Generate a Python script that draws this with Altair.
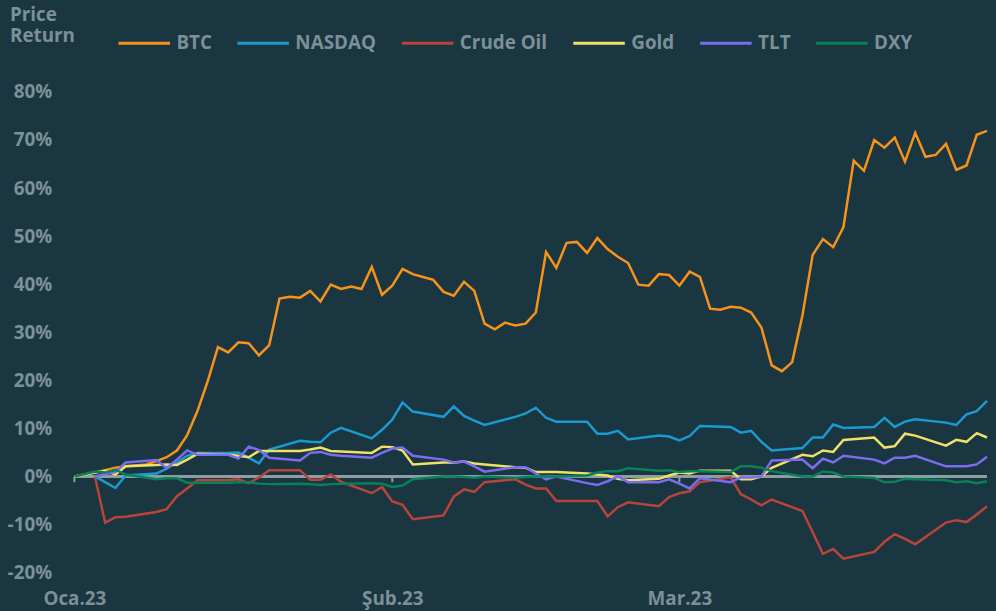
import altair as alt
import pandas as pd
import jinja2

# ---------------- data (percent price return since start of 2023) ----------------
START = "2023-01-01"
N_DAYS = 90  # Jan 1 .. Mar 31

btc = [0, 0.4, 0.8, 1.3, 1.8, 2.1, 2.3, 2.5, 3.2, 4.0,
       5.4, 8.6, 13.6, 19.8, 26.9, 25.8, 27.9, 27.7, 25.2, 27.3,
       37.0, 37.4, 37.2, 38.6, 36.4, 39.9, 39.0, 39.5, 39.0, 43.6,
       37.8, 39.7, 43.2, 42.1, 41.5, 40.9, 38.4, 37.6, 40.5, 38.6,
       31.8, 30.6, 32.0, 31.4, 31.8, 34.1, 46.7, 43.4, 48.6, 48.8,
       46.5, 49.6, 47.3, 45.7, 44.4, 39.9, 39.7, 42.1, 41.9, 39.7,
       42.6, 41.5, 34.9, 34.7, 35.3, 35.1, 34.1, 31.0, 23.1, 21.9,
       23.8, 33.5, 46.1, 49.4, 47.7, 51.9, 65.7, 63.6, 70.0, 68.4,
       70.5, 65.5, 71.5, 66.5, 66.9, 69.2, 63.8, 64.7, 71.1, 71.9]

# day offsets (from Jan 1) of market trading days
trade_days = [2, 3, 4, 5, 8, 9, 10, 11, 12, 15, 16, 17, 18, 19, 22, 23, 24, 25, 26,
              29, 30, 31, 32, 33, 36, 37, 38, 39, 40, 43, 44, 45, 46, 47, 50, 51, 52, 53, 54,
              57, 58, 59, 60, 61, 64, 65, 66, 67, 68, 71, 72, 73, 74, 75, 78, 79, 80, 81, 82,
              85, 86, 87, 88, 89]
fx_days = [0] + trade_days

nasdaq = [0, -1.2, -2.4, 0.2, 0.6, 1.6, 2.9, 4.3, 4.9, 4.9, 5.0, 3.9, 2.7, 5.6,
          7.4, 7.2, 7.1, 9.1, 10.1, 7.9, 9.7, 11.8, 15.4, 13.5, 12.4, 14.6, 12.6, 11.6, 10.7,
          12.4, 13.1, 14.3, 12.2, 11.4, 11.4, 8.9, 8.9, 9.5, 7.7, 8.5, 8.3, 7.5, 8.4, 10.5,
          10.3, 9.1, 9.5, 7.2, 5.4, 5.9, 8.1, 8.1, 10.8, 10.1, 10.3, 12.2, 10.3, 11.4, 11.9,
          11.2, 10.7, 12.9, 13.6, 15.7]

crude = [0, -9.6, -8.5, -8.4, -7.4, -6.8, -4.1, -2.5, -0.8, -0.8, -0.6, -1.4, -0.2, 1.3,
         1.3, -0.7, -0.7, 0.4, -1.1, -3.5, -2.2, -5.2, -5.9, -8.9, -8.1, -4.2, -2.7, -3.2, -1.2,
         -0.6, -1.7, -2.5, -2.5, -5.1, -5.1, -5.1, -8.3, -6.4, -5.4, -6.2, -4.3, -3.5, -3.1, -1.2,
         -0.2, -3.7, -4.8, -6.0, -4.8, -7.2, -11.6, -16.1, -15.1, -17.1, -15.7, -13.6, -12.0, -13.0, -14.1,
         -9.6, -9.1, -9.5, -7.9, -6.2]

tlt = [0, 0.5, 0.9, 2.9, 3.4, 1.7, 3.5, 5.4, 4.5, 4.5, 3.7, 6.2, 5.5, 3.9,
       3.3, 4.9, 5.1, 4.5, 4.3, 3.9, 4.9, 5.8, 6.0, 4.3, 3.5, 2.9, 3.1, 2.1, 1.0,
       1.9, 1.9, 0.6, -0.6, 0.0, -1.4, -1.8, -1.0, 0.0, -1.2, -1.2, -0.6, -1.5, -2.5, -0.4,
       -1.2, -0.2, -0.2, 0.0, 3.3, 3.5, 1.7, 3.7, 2.9, 4.3, 3.5, 2.7, 3.9, 3.9, 4.3,
       2.1, 2.1, 2.1, 2.5, 4.1]

gold = [0, 0.8, 1.2, 0.4, 2.1, 2.4, 2.5, 2.4, 3.5, 4.7, 4.5, 4.3, 4.0, 5.3, 5.3,
        5.3, 5.6, 6.0, 5.3, 5.2, 4.9, 6.2, 6.1, 5.4, 2.5, 2.9, 2.9, 3.1, 2.7, 2.5,
        1.9, 1.8, 0.9, 0.9, 0.9, 0.6, 0.4, 0.2, -0.5, -0.8, -0.5, 0.2, 0.8, 0.6, 1.2,
        1.2, -0.6, -0.6, 0.0, 1.8, 4.5, 4.2, 5.4, 5.1, 7.6, 8.1, 6.0, 6.3, 8.9, 8.5,
        6.4, 7.6, 7.2, 9.0, 8.1]

dxy = [0, 1.0, 0.8, 1.4, 0.4, -0.6, -0.4, -0.4, -1.3, -1.3, -1.3, -1.2, -1.2, -1.5, -1.6,
       -1.5, -1.6, -1.8, -1.6, -1.5, -1.4, -1.5, -2.2, -1.9, -0.6, 0.0, 0.0, -0.1, -0.3, 0.0,
       -0.3, -0.1, 0.0, 0.0, 0.0, 0.2, 0.8, 1.1, 1.1, 1.7, 1.2, 1.3, 0.9, 1.1, 1.1,
       0.9, 2.1, 2.1, 1.8, 1.1, 0.0, 0.0, 1.0, 0.8, 0.0, -0.3, -1.2, -1.1, -0.5, -0.6,
       -0.8, -1.2, -1.0, -1.4, -1.0]

names = ["BTC", "NASDAQ", "Crude Oil", "Gold", "TLT", "DXY"]
colors = ["#f7931a", "#1a9bd0", "#b9443b", "#f0e06a", "#7b6cf0", "#08805a"]
month_ticks = ["2023-01-01", "2023-02-01", "2023-03-01"]
tr_months = ["Oca", "Şub", "Mar", "Nis", "May", "Haz", "Tem", "Ağu", "Eyl", "Eki", "Kas", "Ara"]
y_ticks = list(range(-20, 90, 10))

# ---------------- build table ----------------
all_dates = pd.date_range(START, periods=N_DAYS, freq="D")
series_def = [
    ("BTC", list(range(N_DAYS)), btc),
    ("NASDAQ", trade_days, nasdaq),
    ("Crude Oil", trade_days, crude),
    ("Gold", fx_days, gold),
    ("TLT", trade_days, tlt),
    ("DXY", fx_days, dxy),
]
rows = []
for name, days, vals in series_def:
    for d, v in zip(days, vals):
        rows.append({"date": all_dates[d].strftime("%Y-%m-%dT00:00:00"), "series": name, "value": v})
df = pd.DataFrame(rows)

ticks_df = pd.DataFrame({"date": [m + "T00:00:00" for m in month_ticks]})

BG = "#1a3640"
TXT = "#7b9098"
AX = "#8d9ea4"
FONT = "Open Sans"

x_scale = alt.Scale(domain=[alt.DateTime(year=2023, month=1, date=1),
                            alt.DateTime(year=2023, month=3, date=31)], nice=False)
y_scale = alt.Scale(domain=[-20, 80], nice=False, zero=False)

month_expr = "[" + ",".join("'%s'" % m for m in tr_months) + "][month(datum.value)] + '.' + timeFormat(datum.value, '%y')"

zero_line = alt.Chart(df).mark_rule(color=AX, strokeWidth=2).encode(y=alt.datum(0, scale=y_scale))

lines = alt.Chart(df).mark_line(strokeWidth=2.5).encode(
    x=alt.X("date:T", scale=x_scale,
            axis=alt.Axis(values=[alt.DateTime(year=2023, month=i, date=1) for i in (1, 2, 3)],
                          labelExpr=month_expr, title=None, domain=False, ticks=False, grid=False,
                          labelFlush=False, labelPadding=17, labelFontSize=19, labelFont=FONT,
                          labelFontWeight="bold", labelColor=TXT)),
    y=alt.Y("value:Q", scale=y_scale,
            axis=alt.Axis(values=y_ticks, labelExpr="datum.value + '%'", title=None, domain=False,
                          ticks=False, grid=False, labelPadding=23, labelFontSize=19, labelFont=FONT,
                          labelFontWeight="bold", labelColor=TXT)),
    color=alt.Color("series:N", sort=names,
                    scale=alt.Scale(domain=names, range=colors),
                    legend=alt.Legend(title=None, orient="none", direction="horizontal",
                                      legendX=43, legendY=-77, padding=0,
                                      symbolType="stroke", symbolSize=2704, symbolStrokeWidth=3,
                                      labelFontSize=19, labelFont=FONT, labelFontWeight="bold",
                                      labelColor=TXT, labelOffset=5, columnPadding=19)),
    detail="series:N",
)

month_marks = alt.Chart(ticks_df).mark_rule(color=AX, strokeWidth=2).encode(
    x=alt.X("date:T", scale=x_scale),
    y=alt.datum(0, scale=y_scale),
    y2=alt.datum(-1.2),
)

chart = alt.layer(zero_line, month_marks, lines).properties(
    width=921,
    height=485,
    background=BG,
    autosize=alt.AutoSizeParams(type="none"),
    padding={"left": 67, "top": 90, "right": 1, "bottom": 36},
    title=alt.TitleParams(text=["Price", "Return"], anchor="start", orient="top", frame="group",
                          offset=0, dx=-65, dy=31, fontSize=19, font=FONT, fontWeight="bold",
                          color=TXT, lineHeight=22),
).configure_view(stroke=None)

TEMPLATE = jinja2.Template("""<!DOCTYPE html>
<html>
<head>
  <style>
    body { background: #1a3640; overflow: hidden; margin: 0 8px 8px 8px; }
    #{{ output_div }}.vega-embed { width: 100%; display: flex; }
  </style>
  <script type="text/javascript" src="{{ base_url }}/vega@{{ vega_version }}"></script>
  <script type="text/javascript" src="{{ base_url }}/vega-lite@{{ vegalite_version }}"></script>
  <script type="text/javascript" src="{{ base_url }}/vega-embed@{{ vegaembed_version }}"></script>
</head>
<body>
  <div id="{{ output_div }}"></div>
  <script>
    vegaEmbed("#{{ output_div }}", {{ spec }}, {{ embed_options }}).catch(console.error);
  </script>
</body>
</html>""")

chart.save("out.html", embed_options={"renderer": "svg", "actions": False}, template=TEMPLATE)
